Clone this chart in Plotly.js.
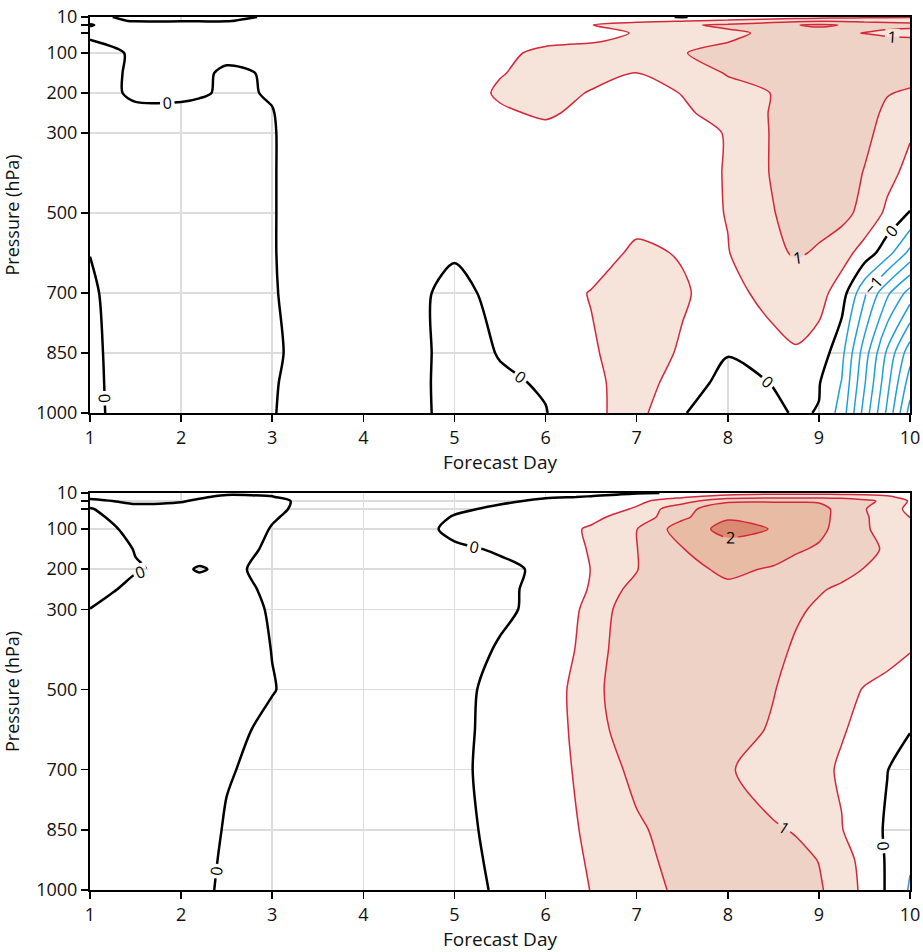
<!DOCTYPE html>
<html><head><meta charset="utf-8">
<script src="https://cdn.plot.ly/plotly-3.0.1.min.js"></script>
<style>html,body{margin:0;padding:0;background:#fff}#chart{width:923px;height:952px}</style>
</head><body><div id="chart"></div>
<script>
const days = [1,1.5,2,2.2,2.5,3,3.5,4,4.5,5,5.5,6,6.5,7,7.5,8,8.5,8.75,9,9.25,9.5,9.75,10];
const pressure = [10,20,30,50,70,100,150,200,250,300,400,500,600,700,850,925,1000];
const xTickVals = [1,2,3,4,5,6,7,8,9,10];
const yTickVals = [10,30,50,100,200,300,500,700,850,1000];
const yTickText = ['10','','','100','200','300','500','700','850','1000'];

// top panel: one vertical profile (pressure levels above) per forecast day
const topProfiles = [
 [0.1,0.05,-0.01,0.05,-0.01,-0.15,-0.15,-0.2,-0.2,-0.2,-0.15,-0.08,-0.005,0.05,0.08,0.09,0.1],
 [-0.1,-0.01,0.1,0.12,0.1,0.05,0.06,0.08,-0.1,-0.2,-0.25,-0.25,-0.25,-0.2,-0.2,-0.2,-0.2],
 [-0.1,-0.01,0.1,0.15,0.15,0.09,0.09,0.08,-0.1,-0.2,-0.25,-0.25,-0.25,-0.25,-0.25,-0.25,-0.25],
 [-0.1,-0.01,0.1,0.15,0.14,0.09,0.06,0.04,-0.11,-0.18,-0.23,-0.23,-0.23,-0.23,-0.23,-0.23,-0.23],
 [-0.1,-0.01,0.1,0.15,0.12,0.08,-0.05,-0.05,-0.12,-0.15,-0.2,-0.2,-0.2,-0.2,-0.2,-0.2,-0.2],
 [0.05,0.08,0.12,0.15,0.15,0.12,0.03,0.02,-0.01,-0.02,-0.02,-0.02,-0.02,-0.03,-0.05,-0.03,-0.02],
 [0.15,0.18,0.2,0.22,0.22,0.22,0.2,0.2,0.2,0.2,0.2,0.2,0.2,0.2,0.15,0.18,0.2],
 [0.2,0.22,0.25,0.25,0.25,0.25,0.25,0.25,0.25,0.25,0.25,0.25,0.25,0.25,0.25,0.25,0.25],
 [0.2,0.25,0.28,0.28,0.28,0.28,0.28,0.28,0.28,0.28,0.28,0.25,0.2,0.15,0.25,0.28,0.3],
 [0.2,0.25,0.3,0.3,0.3,0.3,0.3,0.3,0.3,0.3,0.25,0.15,0.05,-0.15,-0.25,-0.3,-0.3],
 [0.2,0.25,0.3,0.32,0.35,0.38,0.48,0.55,0.45,0.35,0.25,0.2,0.18,0.15,0.03,-0.08,-0.12],
 [0.2,0.25,0.32,0.35,0.4,0.62,0.62,0.62,0.55,0.4,0.3,0.25,0.25,0.3,0.2,0.05,-0.02],
 [0.25,0.3,0.49,0.4,0.45,0.75,0.6,0.48,0.4,0.3,0.3,0.3,0.3,0.52,0.45,0.4,0.42],
 [0.1,0.4,0.7,0.52,0.62,0.85,0.49,0.38,0.35,0.35,0.35,0.35,0.58,0.75,0.72,0.7,0.65],
 [-0.02,0.48,0.92,0.7,0.85,0.98,0.6,0.51,0.45,0.3,0.3,0.3,0.47,0.55,0.45,0.3,0.05],
 [0.15,0.6,1.1,0.9,0.98,1.15,1.05,0.75,0.62,0.53,0.53,0.52,0.48,0.3,0.03,-0.2,-0.45],
 [0.2,0.8,1.3,1.1,1.2,1.3,1.3,1.02,1.05,1.05,1.05,0.98,0.9,0.72,0.3,0.02,-0.1],
 [0.25,0.88,1.48,1.2,1.25,1.35,1.35,1.3,1.3,1.3,1.25,1.2,1.05,0.68,0.47,0.15,0.05],
 [0.3,0.95,1.6,1.22,1.3,1.4,1.4,1.35,1.35,1.35,1.3,1.15,0.95,0.68,0.3,0.03,-0.02],
 [0.35,0.95,1.48,1.1,1.3,1.4,1.4,1.32,1.3,1.3,1.2,1.15,0.7,0.25,-0.35,-0.52,-0.7],
 [0.4,0.9,1.3,0.98,1.25,1.4,1.35,1.2,1.15,1.1,0.98,0.85,0.3,-0.9,-1.75,-1.95,-2.2],
 [0.42,0.88,1.2,0.85,1.2,1.35,1.25,1.02,0.92,0.85,0.65,0.4,-0.3,-1.9,-3.1,-3.35,-3.6],
 [0.45,0.85,1.15,0.8,1.15,1.3,1.15,0.95,0.7,0.55,0.35,-0.02,-1.15,-2.7,-4.3,-4.75,-5.2]
];

// bottom panel
const bottomProfiles = [
 [-0.1,-0.03,0.03,-0.005,-0.15,-0.25,-0.3,-0.3,-0.15,0.005,0.2,0.3,0.35,0.35,0.35,0.35,0.35],
 [-0.1,-0.1,-0.03,0.05,0.3,0.15,0.02,-0.03,0.1,0.25,0.35,0.4,0.4,0.4,0.4,0.4,0.4],
 [-0.15,-0.08,-0.02,0.1,0.3,0.35,0.3,0.1,0.3,0.35,0.4,0.4,0.4,0.4,0.4,0.4,0.4],
 [-0.11,-0.03,0.04,0.14,0.28,0.31,0.26,-0.05,0.26,0.31,0.36,0.36,0.29,0.26,0.22,0.2,0.18],
 [-0.05,0.05,0.12,0.2,0.25,0.25,0.2,0.12,0.2,0.25,0.3,0.3,0.12,0.04,-0.05,-0.1,-0.15],
 [-0.05,0.01,0.1,0.08,0.03,-0.02,-0.08,-0.15,-0.1,-0.05,-0.01,0.02,-0.1,-0.15,-0.2,-0.2,-0.2],
 [-0.1,-0.15,-0.15,-0.15,-0.15,-0.15,-0.2,-0.2,-0.2,-0.2,-0.2,-0.2,-0.2,-0.2,-0.2,-0.2,-0.2],
 [-0.15,-0.2,-0.2,-0.2,-0.2,-0.2,-0.2,-0.2,-0.2,-0.2,-0.2,-0.2,-0.2,-0.2,-0.2,-0.2,-0.2],
 [-0.15,-0.2,-0.2,-0.2,-0.18,-0.15,-0.18,-0.2,-0.2,-0.2,-0.2,-0.2,-0.2,-0.2,-0.2,-0.2,-0.2],
 [-0.12,-0.12,-0.1,-0.05,0.02,0.08,-0.05,-0.1,-0.1,-0.1,-0.1,-0.1,-0.09,-0.08,-0.1,-0.12,-0.15],
 [-0.1,-0.08,-0.04,0.05,0.1,0.15,0.03,-0.06,-0.06,-0.04,0.02,0.1,0.11,0.12,0.09,0.07,0.05],
 [-0.08,-0.02,0.04,0.15,0.2,0.3,0.25,0.05,0.08,0.06,0.07,0.2,0.22,0.24,0.25,0.22,0.2],
 [-0.04,0.01,0.1,0.25,0.4,0.55,0.53,0.51,0.54,0.65,0.74,0.84,0.78,0.69,0.59,0.55,0.51],
 [-0.02,0.15,0.4,0.55,0.7,0.99,0.99,0.98,1.2,1.38,1.42,1.4,1.33,1.13,0.93,0.87,0.8],
 [0.02,0.45,0.75,1.4,1.4,1.75,1.48,1.35,1.35,1.38,1.42,1.42,1.4,1.35,1.2,1.15,1.1],
 [0.3,0.7,1.45,1.7,1.95,2.15,1.8,1.6,1.4,1.35,1.3,1.25,1.2,1.05,1.1,1.1,1.15],
 [0.35,0.85,1.45,1.8,1.95,1.98,1.75,1.45,1.3,1.2,1.1,1.02,0.95,0.75,1.05,1.15,1.2],
 [0.35,0.85,1.45,1.75,1.8,1.75,1.55,1.35,1.15,1.05,0.95,0.85,0.75,0.68,0.97,1.1,1.12],
 [0.35,0.85,1.45,1.65,1.65,1.6,1.45,1.2,1.03,0.95,0.85,0.75,0.65,0.6,0.7,0.99,1.05],
 [0.32,0.8,1.4,1.35,1.35,1.35,1.25,1.1,0.95,0.9,0.78,0.62,0.53,0.45,0.52,0.7,0.8],
 [0.3,0.75,1.1,1.02,1.05,1.05,1.1,0.99,0.9,0.85,0.7,0.48,0.4,0.25,0.2,0.35,0.38],
 [0.25,0.6,0.9,0.8,0.8,0.85,0.95,0.85,0.8,0.75,0.62,0.4,0.2,0.01,-0.05,-0.05,-0.05],
 [0.15,0.3,0.45,0.35,0.49,0.7,0.75,0.7,0.68,0.65,0.52,0.3,0.02,-0.2,-0.3,-0.45,-0.55]
];

const FONT = 'Open Sans, sans-serif';
const RED = '#d3283b';
const BLUE = '#1e9fdc';
const FILL_COLORS = ['rgba(255,255,255,0)','#ffffff','#f6e3da','#efd2c6','#e8bba5','#da8a70','#da8a70'];
const SMOOTH = 0.8;

function toZ(profiles){ return pressure.map((p,i)=>profiles.map(col=>col[i])); }

function fillTrace(z, xa, ya){
  const n = FILL_COLORS.length - 1;
  return {type:'contour', x:days, y:pressure, z:z, xaxis:xa, yaxis:ya, autocontour:false,
    contours:{start:0, end:2.5, size:0.5, coloring:'fill', showlines:false},
    colorscale:FILL_COLORS.map((c,i)=>[i/n,c]), showscale:false,
    line:{width:0, smoothing:SMOOTH}, hoverinfo:'skip'};
}
function lineTrace(z, xa, ya, start, end, size, color, width, labels){
  return {type:'contour', x:days, y:pressure, z:z, xaxis:xa, yaxis:ya, autocontour:false,
    contours:{start:start, end:end, size:size, coloring:'none', showlabels:labels,
      labelfont:{family:FONT, size:16, color:'#000'}},
    line:{color:color, width:width, smoothing:SMOOTH}, showscale:false, hoverinfo:'skip'};
}
function panel(profiles, xa, ya){
  const z = toZ(profiles);
  return [
    fillTrace(z, xa, ya),
    lineTrace(z, xa, ya, 0.5, 2.5, 1, RED, 1.5, false),
    lineTrace(z, xa, ya, 1, 2, 1, RED, 1.5, true),
    lineTrace(z, xa, ya, -0.5, -0.5, 1, BLUE, 1.5, false),
    lineTrace(z, xa, ya, -5, -1.5, 0.5, BLUE, 1.5, false),
    lineTrace(z, xa, ya, -1, -1, 1, BLUE, 1.5, true),
    lineTrace(z, xa, ya, 0, 0, 1, '#000', 2.5, true)
  ];
}

const data = panel(topProfiles, 'x', 'y').concat(panel(bottomProfiles, 'x2', 'y2'));

function xAxis(anchor){
  return {anchor:anchor, domain:[0,1], range:[1,10], tickvals:xTickVals,
    showgrid:true, gridcolor:'#dcdcdc', gridwidth:1.5, zeroline:false,
    showline:true, mirror:true, linecolor:'#000', linewidth:2,
    ticks:'outside', ticklen:7, tickwidth:1.5, tickcolor:'#000',
    tickfont:{family:FONT, size:18, color:'#111'},
    title:{text:'Forecast Day', font:{family:FONT, size:19, color:'#111'}, standoff:0}};
}
function yAxis(anchor, dom){
  return {anchor:anchor, domain:dom, range:[1000,10], tickvals:yTickVals, ticktext:yTickText,
    showgrid:true, gridcolor:'#dcdcdc', gridwidth:1.5, zeroline:false,
    showline:true, mirror:true, linecolor:'#000', linewidth:2,
    ticks:'outside', ticklen:7, tickwidth:1.5, tickcolor:'#000',
    tickfont:{family:FONT, size:18, color:'#111'},
    title:{text:'Pressure (hPa)', font:{family:FONT, size:18, color:'#111'}, standoff:12}};
}

const layout = {
  width:923, height:952, margin:{l:90, r:13, t:17, b:62},
  paper_bgcolor:'#fff', plot_bgcolor:'#fff', showlegend:false,
  font:{family:FONT, color:'#111'},
  xaxis:xAxis('y'), yaxis:yAxis('x',[0.5464,1]),
  xaxis2:xAxis('y2'), yaxis2:yAxis('x2',[0,0.4548])
};

Plotly.newPlot('chart', data, layout, {displayModeBar:false, staticPlot:true});
</script>
</body></html>
